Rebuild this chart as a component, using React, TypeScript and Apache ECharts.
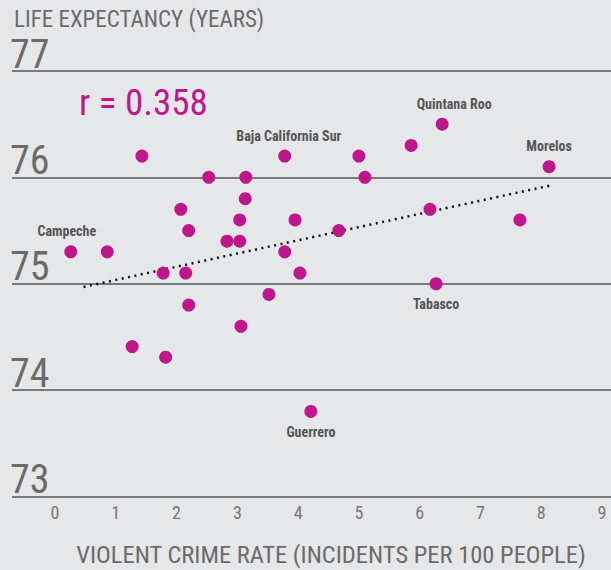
import React, { useEffect, useRef } from "react";
import * as echarts from "echarts";

const crimeRate = [0.26, 0.86, 1.43, 1.27, 1.78, 1.82, 2.07, 2.2, 2.15, 2.2, 2.53, 2.83, 3.04, 3.04, 3.13, 3.14, 3.06, 3.52, 3.78, 3.78, 3.95, 4.03, 4.21, 4.67, 5.0, 5.1, 5.86, 6.37, 6.17, 6.27, 7.65, 8.13];
const lifeExp = [75.3, 75.3, 76.2, 74.41, 75.1, 74.31, 75.7, 75.5, 75.1, 74.8, 76.0, 75.4, 75.4, 75.6, 75.8, 76.0, 74.6, 74.9, 76.2, 75.3, 75.6, 75.1, 73.8, 75.5, 76.2, 76.0, 76.3, 76.5, 75.7, 75.0, 75.6, 76.1];
const stateNames = ["Campeche", "", "", "", "", "", "", "", "", "", "", "", "", "", "", "", "", "", "Baja California Sur", "", "", "", "Guerrero", "", "", "", "", "Quintana Roo", "", "Tabasco", "", "Morelos"];
const trendX = [0.47, 8.2];
const trendY = [74.97, 75.93];
const yTicks = [73, 74, 75, 76, 77];
const xTicks = [0, 1, 2, 3, 4, 5, 6, 7, 8, 9];
const rText = "r = 0.358";

const FONT = "'Roboto Condensed', 'Liberation Sans Narrow', 'DejaVu Sans Condensed', 'Arial Narrow', sans-serif";
const MAGENTA = "#bf178b";
const GRAY = "#6b6b6b";

export default function App() {
  const ref = useRef<HTMLDivElement>(null);
  useEffect(() => {
    if (!ref.current) return;
    const chart = echarts.init(ref.current, undefined, { renderer: "svg" });
    const below = new Set(["Tabasco", "Guerrero"]);
    const labelOffset: Record<string, number[]> = { "Quintana Roo": [12, 0], "Campeche": [-4, 0], "Baja California Sur": [4, 0] };
    const points = crimeRate.map((x, i) => {
      const name = stateNames[i];
      const d: any = { value: [x, lifeExp[i]], name };
      if (name) {
        d.label = {
          show: true,
          formatter: name,
          position: below.has(name) ? "bottom" : "top",
          distance: 7,
          offset: labelOffset[name] || [0, 0],
        };
      }
      return d;
    });
    const top = 71;
    const bottom = 570 - 496.5;
    chart.setOption({
      animation: false,
      backgroundColor: "#e6e7e9",
      textStyle: { fontFamily: FONT },
      title: [
        {
          text: "LIFE EXPECTANCY (YEARS)",
          left: 9,
          top: 3,
          textStyle: { fontFamily: FONT, fontSize: 23, fontWeight: "normal", color: GRAY },
        },
        {
          text: rText,
          left: 74,
          top: 79,
          textStyle: { fontFamily: FONT, fontSize: 37, fontWeight: "normal", color: MAGENTA },
        },
      ],
      grid: [
        { left: 12, right: 0, top, bottom, outerBoundsMode: "none" },
        { left: 55, right: 9, top, bottom, outerBoundsMode: "none" },
      ],
      xAxis: [
        { gridIndex: 0, type: "value", min: 0, max: 1, show: false },
        {
          gridIndex: 1,
          type: "value",
          min: xTicks[0],
          max: xTicks[xTicks.length - 1],
          interval: 1,
          axisLine: { show: false },
          axisTick: { show: false },
          splitLine: { show: false },
          axisLabel: { color: "#777", fontSize: 18, margin: 7, fontFamily: FONT },
          name: "VIOLENT CRIME RATE (INCIDENTS PER 100 PEOPLE)",
          nameLocation: "middle",
          nameGap: 45,
          nameTextStyle: { color: GRAY, fontSize: 24.5, fontFamily: FONT, padding: [0, 0, 0, 5] },
        },
      ],
      yAxis: [
        {
          gridIndex: 0,
          type: "value",
          min: yTicks[0],
          max: yTicks[yTicks.length - 1],
          interval: 1,
          axisLine: { show: false },
          axisTick: { show: false },
          splitLine: { show: true, lineStyle: { color: "#7a7a7a", width: 2 } },
          axisLabel: {
            inside: true,
            margin: -2,
            verticalAlign: "bottom",
            lineHeight: 34,
            color: "#6b6b6b",
            fontSize: 40,
            fontFamily: FONT,
          },
        },
        { gridIndex: 1, type: "value", min: yTicks[0], max: yTicks[yTicks.length - 1], show: false },
      ],
      series: [
        {
          type: "line",
          xAxisIndex: 1,
          yAxisIndex: 1,
          data: trendX.map((x, i) => [x, trendY[i]]),
          symbol: "none",
          lineStyle: { color: "#111", width: 2.5, type: [2, 4.5] },
          z: 3,
        },
        {
          type: "scatter",
          xAxisIndex: 1,
          yAxisIndex: 1,
          data: points,
          symbolSize: 13,
          itemStyle: { color: MAGENTA, opacity: 1 },
          label: { color: "#555", fontSize: 14, fontFamily: FONT, fontWeight: "bold" },
          z: 4,
        },
      ],
    });
    return () => chart.dispose();
  }, []);
  return <div ref={ref} style={{ position: "fixed", left: 0, top: 0, width: 611, height: 570 }} />;
}
